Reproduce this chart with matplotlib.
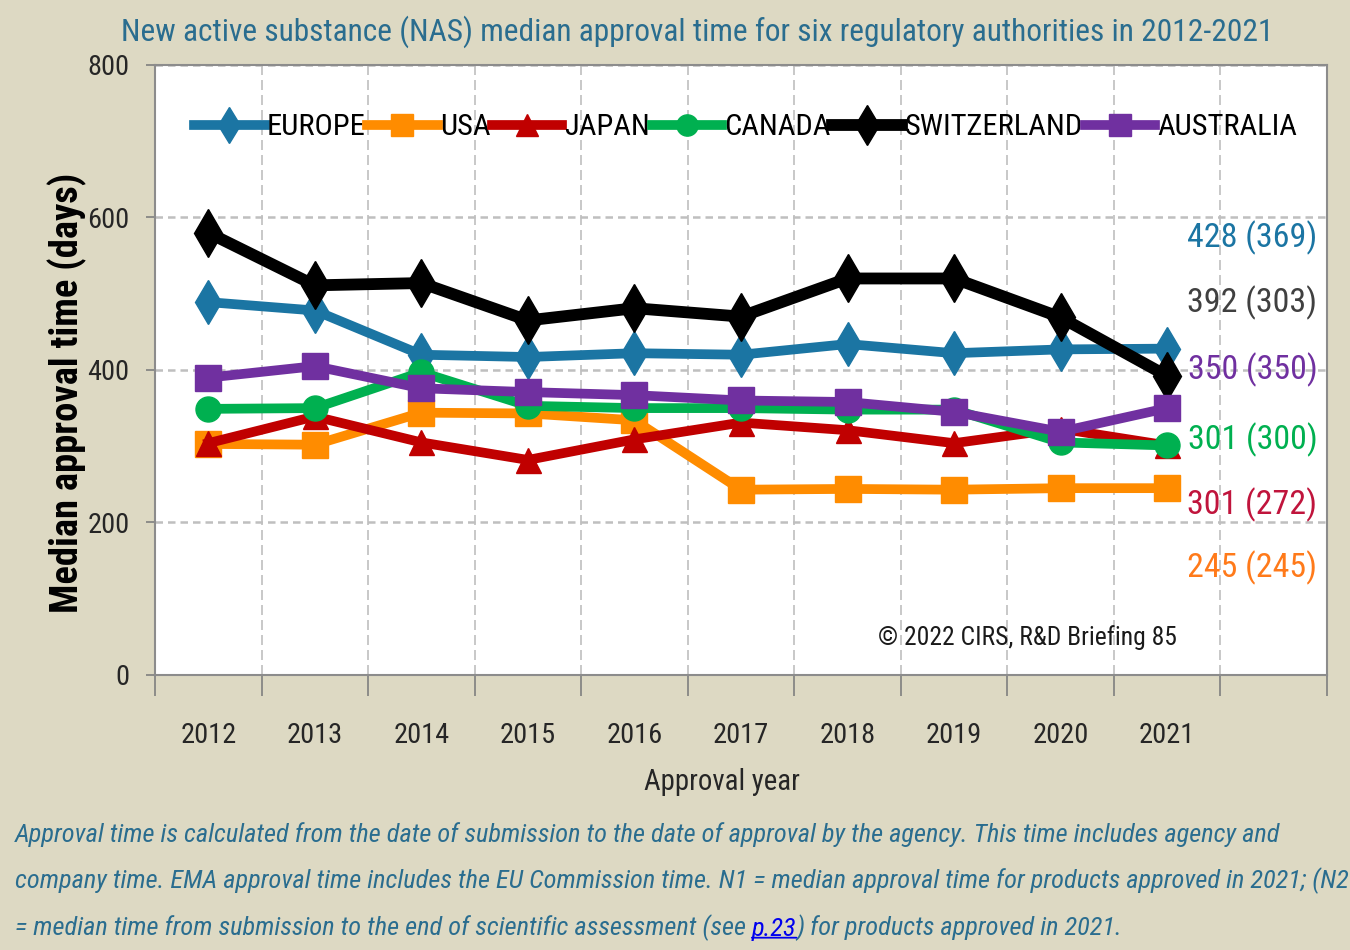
import numpy as np
import matplotlib
matplotlib.use("Agg")
import matplotlib.pyplot as plt
from matplotlib import font_manager as fm

# Datos (dias, mediana)
years = ["2012", "2013", "2014", "2015", "2016", "2017", "2018", "2019", "2020", "2021"]
europe = [489, 478, 420, 417, 422, 420, 434, 422, 427, 428]
usa = [303, 302, 344, 343, 334, 243, 244, 243, 245, 245]
japan = [304, 339, 305, 282, 309, 331, 321, 304, 323, 301]
canada = [349, 350, 397, 353, 350, 350, 348, 348, 305, 301]
switzerland = [580, 511, 514, 465, 481, 470, 520, 520, 469, 392]
australia = [390, 405, 376, 371, 367, 360, 358, 345, 319, 350]

names = ["EUROPE", "USA", "JAPAN", "CANADA", "SWITZERLAND", "AUSTRALIA"]
# N1 (N2) para 2021
n1 = [428, 245, 301, 301, 392, 350]
n2 = [369, 245, 272, 300, 303, 350]

bg = "#DDD9C3"
azul_titulo = "#2A6D8F"
colores = ["#1B75A3", "#FF8C00", "#C00000", "#00B050", "#000000", "#7030A0"]
marcadores = ["d", "s", "^", "o", "d", "s"]
tam_marc = [22, 19, 18, 18, 24, 19]
anchos = [7, 7, 7, 7, 8.5, 7]
# altura (en dias) de cada etiqueta de la derecha
pos_etiquetas = [573, 140, 223, 308, 488, 400]
color_etiquetas = ["#1B75A3", "#FF7A1A", "#C0143C", "#00B050", "#404040", "#7030A0"]

# fuente angosta (la original es Calibri estirada)
disponibles = set(f.name for f in fm.fontManager.ttflist)
fuente = "Open Sans"
for nombre in ["Roboto Condensed", "PT Sans Narrow", "Archivo Narrow", "Carlito"]:
    if nombre in disponibles:
        fuente = nombre
        break
plt.rcParams["font.family"] = [fuente, "DejaVu Sans"]

fig = plt.figure(figsize=(13.5, 9.5), dpi=100, facecolor=bg)
ax = fig.add_axes([0.1148, 0.2895, 0.8682, 0.6421])
ax.set_facecolor("white")
renderer = fig.canvas.get_renderer()


def tam_para(texto, ancho, fs=20, **kw):
    # tamaño de fuente para que el texto mida 'ancho' pixeles
    t = fig.text(0, 0, texto, fontsize=fs, **kw)
    w = t.get_window_extent(renderer).width
    t.remove()
    return fs * ancho / w


fs_ticks = tam_para("2012", 56)
fs_leyenda = tam_para("SWITZERLAND", 178)
fs_etiq = tam_para("428 (369)", 130)

x = np.arange(len(years))
series = [europe, usa, japan, canada, switzerland, australia]
for i, s in enumerate(series):
    ax.plot(x, s, color=colores[i], lw=anchos[i], marker=marcadores[i],
            ms=tam_marc[i], label=names[i], solid_joinstyle="round")

### Ejes ###
ax.set_xlim(-0.5, 10.5)
ax.set_ylim(0, 800)
ax.set_yticks([0, 200, 400, 600, 800])
ax.set_xticks(x)
ax.set_xticklabels(years)
ax.set_xticks(np.arange(-0.5, 11, 1), minor=True)
ax.tick_params(axis="x", which="major", length=0, pad=34, labelsize=fs_ticks, labelcolor="#262626")
ax.tick_params(axis="x", which="minor", length=15, color="#7F7F7F", width=1.2)
ax.tick_params(axis="y", length=6.5, color="#7F7F7F", width=1.2, labelsize=fs_ticks,
               labelcolor="#262626", pad=12)
ax.grid(axis="y", which="major", color="#BFBFBF", ls=(0, (3, 2)), lw=1.8)
ax.grid(axis="x", which="minor", color="#BFBFBF", ls=(0, (6, 3)), lw=1.2)
ax.set_axisbelow(True)
for sp in ax.spines.values():
    sp.set_color("#8C8C8C")
    sp.set_linewidth(1.5)

ylab = "Median approval time (days)"
fs_ylab = tam_para(ylab, 440, fontweight="bold")
ax.set_ylabel(ylab, fontsize=fs_ylab, fontweight="bold", va="center", color="black")
ax.yaxis.set_label_coords(-0.0751, 0.462)
ax.set_xlabel("Approval year", fontsize=tam_para("Approval year", 155), color="#262626", va="center")
ax.xaxis.set_label_coords(0.484, -0.175)

ax.legend(loc="center", bbox_to_anchor=(0.504, 0.898), ncol=6, frameon=False,
          fontsize=fs_leyenda, handlelength=2.3, handletextpad=0.08, columnspacing=0.05,
          markerscale=0.85)

# Etiquetas N1 (N2)
for i in range(len(names)):
    ax.text(9.8, pos_etiquetas[i], "{} ({})".format(n1[i], n2[i]), color=color_etiquetas[i],
            fontsize=fs_etiq, ha="center", va="center")

ax.text(7.69, 49, "\u00a9 2022 CIRS, R&D Briefing 85", ha="center", va="center", color="#1a1a1a",
        fontsize=tam_para("\u00a9 2022 CIRS, R&D Briefing 85", 299))

titulo = "New active substance (NAS) median approval time for six regulatory authorities in 2012-2021"
fig.text(0.5163, 0.967, titulo, ha="center", va="center", color=azul_titulo,
         fontsize=tam_para(titulo, 1150))

### Nota al pie ###
linea1 = "Approval time is calculated from the date of submission to the date of approval by the agency. This time includes agency and"
fs_nota = tam_para(linea1, 1265, style="italic")
nota = dict(fontsize=fs_nota, style="italic", color=azul_titulo)
fig.text(0.011, 0.122, linea1, va="center", **nota)
fig.text(0.011, 0.073, "company time. EMA approval time includes the EU Commission time. N1 = median approval time for products approved in 2021; (N2",
         va="center", **nota)
t1 = fig.text(0.011, 0.024, "= median time from submission to the end of scientific assessment (see ", va="center", **nota)
t2 = ax.annotate("p.23", xy=(1, 0), xycoords=t1, va="bottom", ha="left",
                 fontsize=fs_nota, style="italic", color="#0000EE", annotation_clip=False)
ax.annotate(") for products approved in 2021.", xy=(1, 0), xycoords=t2, va="bottom", ha="left",
            annotation_clip=False, **nota)
ax.annotate("", xy=(0, 0.12), xycoords=t2, xytext=(1, 0.12), textcoords=t2, annotation_clip=False,
            arrowprops=dict(arrowstyle="-", color="#0000EE", lw=1.3, shrinkA=0, shrinkB=0))

plt.savefig("out.png", dpi=100, facecolor=bg)
